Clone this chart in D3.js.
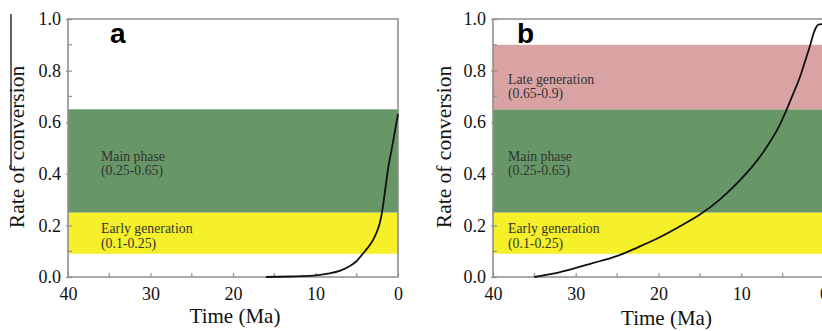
<!DOCTYPE html>
<html>
<head>
<meta charset="utf-8">
<script src="https://cdn.jsdelivr.net/npm/d3@7"></script>
<style>
  body { margin: 0; background: #fff; overflow: hidden; }
  svg { display: block; }
  .tag { font-family: "Liberation Sans", Arial, sans-serif; font-weight: bold; }
</style>
</head>
<body>
<script>
// tick values
var timeTicks = [40, 30, 20, 10, 0];
var timeMinor = [35, 25, 15, 5];
var rateTicks = [0, 0.2, 0.4, 0.6, 0.8, 1.0];
var rateMinor = [0.1, 0.3, 0.5, 0.7, 0.9];

// generation windows
var bandNames = ["Early generation", "Main phase", "Late generation"];
var bandRanges = ["(0.1-0.25)", "(0.25-0.65)", "(0.65-0.9)"];
var bandLow = [0.09, 0.25, 0.65];
var bandHigh = [0.25, 0.65, 0.9];

// curves (time in Ma, rate of conversion)
var timeA = [16, 13, 10.3, 8.5, 7, 6, 5, 4.4, 4, 3.5, 3, 2.5, 2.2, 2, 1.8, 1.5, 1.2, 0.8, 0.4, 0];
var rateA = [0, 0.002, 0.005, 0.013, 0.025, 0.04, 0.062, 0.085, 0.1, 0.12, 0.145, 0.18, 0.21, 0.24, 0.28, 0.35, 0.42, 0.49, 0.56, 0.632];
var timeB = [35, 32, 28.7, 27, 24.7, 22.5, 19.8, 17.5, 15, 12.6, 10, 8, 6.8, 5.5, 4.5, 3.6, 2.9, 2.3, 1.7, 1.3, 1, 0.7, 0.3, 0];
var rateB = [0, 0.018, 0.047, 0.062, 0.085, 0.115, 0.155, 0.195, 0.242, 0.3, 0.38, 0.455, 0.51, 0.58, 0.65, 0.72, 0.775, 0.835, 0.895, 0.94, 0.965, 0.978, 0.98, 0.98];

var bandColor = ["#f5f02a", "#679766", "#d9a3a3"];
var labelAt = [0.17, 0.45, 0.75];
var frameColor = "#8e8e8e";
var serifFont = '"Liberation Serif", "Times New Roman", serif';
var width = 822, height = 331;

var svg = d3.select("body").append("svg")
  .attr("width", width)
  .attr("height", height)
  .attr("viewBox", [0, 0, width, height]);

// stray rule left over from the page crop
svg.append("line")
  .attr("x1", 11).attr("x2", 11)
  .attr("y1", 14).attr("y2", 170)
  .attr("stroke", "#111").attr("stroke-width", 1.3);

function panel(opt) {
  var x = d3.scaleLinear().domain([40, 0]).range([opt.x0, opt.x1]);
  var y = d3.scaleLinear().domain([0, 1]).range([277, 19]);
  var g = svg.append("g");
  var nBands = opt.bands;

  g.append("g")
    .selectAll("rect")
    .data(d3.range(nBands))
    .join("rect")
      .attr("x", x(40))
      .attr("width", x(0) - x(40))
      .attr("y", i => y(bandHigh[i]))
      .attr("height", i => y(bandLow[i]) - y(bandHigh[i]))
      .attr("fill", i => bandColor[i]);

  var txt = g.append("g")
    .style("font-family", serifFont)
    .attr("font-size", 13.8)
    .attr("fill", "#333");
  d3.range(nBands).forEach(function (i) {
    var t = txt.append("text")
      .attr("x", opt.x0 + opt.labelDx)
      .attr("y", y(labelAt[i]));
    t.append("tspan").text(bandNames[i]);
    t.append("tspan").attr("x", opt.x0 + opt.labelDx).attr("dy", 14.5).text(bandRanges[i]);
  });

  // frame
  g.append("path")
    .attr("fill", "none")
    .attr("stroke", frameColor)
    .attr("stroke-width", 1.6)
    .attr("d", `M${x(40)},${y(0)}H${x(0)}V${y(1)}H${x(40)}Z`);

  var xAxis = d3.axisBottom(x)
    .tickValues(timeTicks)
    .tickSizeInner(-4)
    .tickSizeOuter(0)
    .tickPadding(10)
    .tickFormat(d3.format("d"));
  var gx = g.append("g")
    .attr("transform", `translate(0,${y(0)})`)
    .call(xAxis)
    .call(s => s.select(".domain").remove());
  gx.selectAll(".tick line").attr("stroke", frameColor).attr("stroke-width", 1.2);
  gx.selectAll(".tick text")
    .style("font-family", serifFont)
    .attr("font-size", 18).attr("fill", "#111");
  gx.append("g").selectAll("line")
    .data(timeMinor)
    .join("line")
      .attr("x1", d => x(d)).attr("x2", d => x(d))
      .attr("y1", 0).attr("y2", -4)
      .attr("stroke", frameColor).attr("stroke-width", 1.2);

  var yAxis = d3.axisLeft(y)
    .tickValues(rateTicks)
    .tickSizeInner(2)
    .tickSizeOuter(0)
    .tickPadding(5)
    .tickFormat(d3.format(".1f"));
  var gy = g.append("g")
    .attr("transform", `translate(${x(40)},0)`)
    .call(yAxis)
    .call(s => s.select(".domain").remove());
  gy.selectAll(".tick line").attr("stroke", frameColor).attr("stroke-width", 1.2).attr("x2", 4).attr("x1", -2);
  gy.selectAll(".tick text")
    .style("font-family", serifFont)
    .attr("font-size", 18).attr("fill", "#111");
  gy.append("g").selectAll("line")
    .data(rateMinor)
    .join("line")
      .attr("y1", d => y(d)).attr("y2", d => y(d))
      .attr("x1", 0).attr("x2", 4)
      .attr("stroke", frameColor).attr("stroke-width", 1.2);

  g.append("text")
    .style("font-family", serifFont)
    .attr("transform", `translate(${opt.titleX},${(y(0) + y(1)) / 2 - 1}) rotate(-90)`)
    .attr("text-anchor", "middle")
    .attr("font-size", 21.5)
    .attr("fill", "#111")
    .text("Rate of conversion");

  g.append("text")
    .style("font-family", serifFont)
    .attr("x", (x(40) + x(0)) / 2 + opt.xTitleDx)
    .attr("y", opt.xTitleY)
    .attr("text-anchor", "middle")
    .attr("font-size", 21)
    .attr("fill", "#111")
    .text("Time (Ma)");

  g.append("text")
    .attr("class", "tag")
    .attr("x", opt.x0 + opt.tagDx)
    .attr("y", 43)
    .attr("font-size", 28)
    .attr("fill", "#000")
    .text(opt.tag);

  var line = d3.line()
    .curve(d3.curveMonotoneX)
    .x((d, i) => x(opt.time[i]))
    .y(d => y(d));

  g.append("path")
    .datum(opt.rate)
    .attr("fill", "none")
    .attr("stroke", "#111")
    .attr("stroke-width", 1.8)
    .attr("d", line);
}

panel({ x0: 68, x1: 398, bands: 2, labelDx: 33, tagDx: 42, tag: "a",
  titleX: 24, xTitleDx: 2, xTitleY: 323, time: timeA, rate: rateA });
panel({ x0: 493, x1: 824, bands: 3, labelDx: 15, tagDx: 24, tag: "b",
  titleX: 451, xTitleDx: 8, xTitleY: 325, time: timeB, rate: rateB });
</script>
</body>
</html>
